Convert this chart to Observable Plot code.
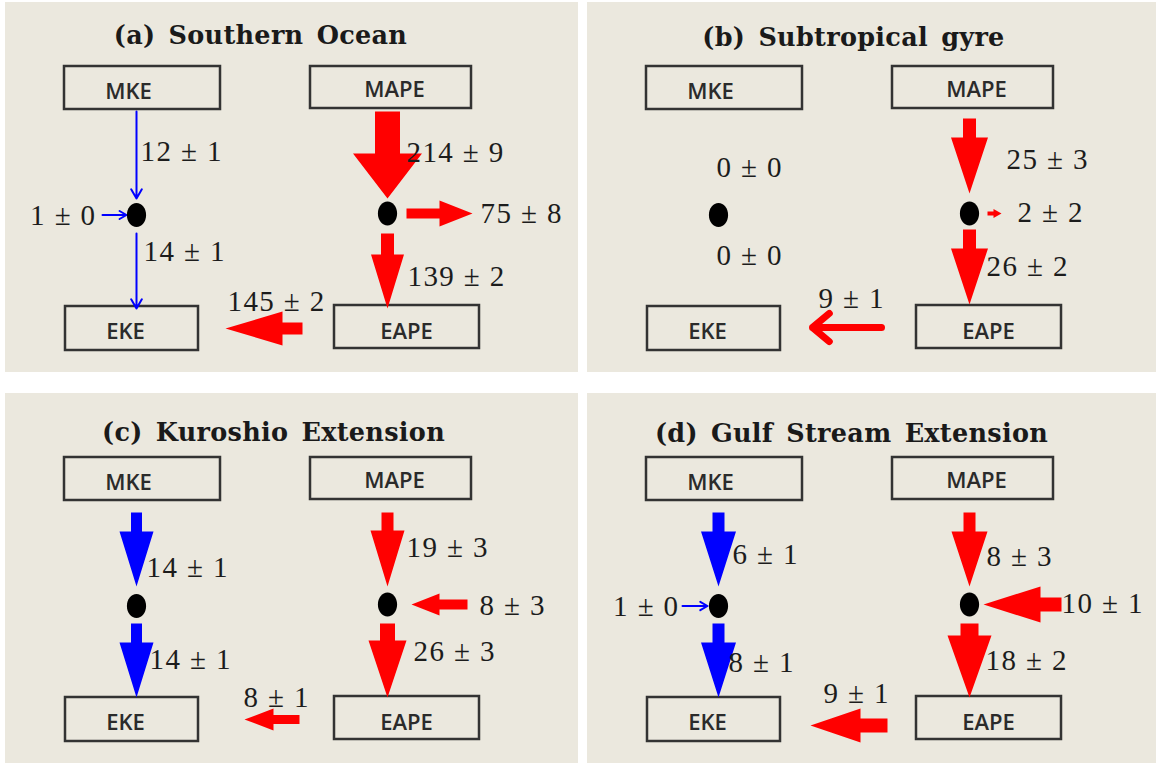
<!DOCTYPE html>
<html>
<head>
<meta charset="utf-8">
<script src="https://cdn.jsdelivr.net/npm/d3@7"></script>
<script src="https://cdn.jsdelivr.net/npm/@observablehq/plot@0.6"></script>
<style>
  html, body { margin: 0; padding: 0; background: #ffffff; }
  #wrap { position: relative; width: 1156px; height: 763px; overflow: hidden; background: #ffffff; }
  .panel { position: absolute; }
  .panel svg { display: block; }
  g[font-weight="bold"] text { letter-spacing: 0.3px; word-spacing: 4px; }
  g[font-size="29"] text { letter-spacing: 1.4px; }
</style>
</head>
<body>
<div id="wrap"></div>
<script>
// ---------------- data ----------------
const panelTitles = ["(a) Southern Ocean", "(b) Subtropical gyre", "(c) Kuroshio Extension", "(d) Gulf Stream Extension"];
const boxNames = ["MKE", "MAPE", "EKE", "EAPE"];
// energy conversion terms, in this order (null = not shown);
// for "ext→P" the sign gives the direction: + into the node, − out of it
const flowKeys = ["MKE→K", "K→EKE", "ext→K", "MAPE→P", "P→EAPE", "ext→P", "EAPE→EKE"];
const southernOcean      = [12, 14, 1, 214, 139, -75, 145];
const southernOceanErr   = [1, 1, 0, 9, 2, 8, 2];
const subtropicalGyre    = [0, 0, null, 25, 26, -2, 9];
const subtropicalGyreErr = [0, 0, null, 3, 2, 2, 1];
const kuroshioExt        = [14, 14, null, 19, 26, 8, 8];
const kuroshioExtErr     = [1, 1, null, 3, 3, 3, 1];
const gulfStreamExt      = [6, 8, 1, 8, 18, 10, 9];
const gulfStreamExtErr   = [1, 1, 0, 3, 2, 1, 1];
const panelValues = [southernOcean, subtropicalGyre, kuroshioExt, gulfStreamExt];
const panelErrors = [southernOceanErr, subtropicalGyreErr, kuroshioExtErr, gulfStreamExtErr];

// ---------------- layout (panel-local pixels) ----------------
const H = 370;
const panelWidth = [573, 569, 573, 569];
const panelOrigin = [[5, 2], [587, 2], [5, 393], [587, 393]];
const titleAt = [[255, 33], [266, 35], [268, 39.5], [264, 40]];
const boxRect = {MKE: [59, 215, 64, 107], MAPE: [305, 466, 64, 106], EKE: [60, 193, 304, 348], EAPE: [329, 474, 303, 346]};
const boxLabelAt = {MKE: [123, 89.5], MAPE: [389, 87.5], EKE: [120, 329], EAPE: [401, 329]};
const KE = [131, 212.5], PE = [382, 211];
// vertical arrow spans: [top start, top tip, bottom start, bottom tip]
const vSpan = [[109, 196, 231, 306], [116, 191, 227, 302], [119, 193, 230, 304], [119, 193, 230, 304]];
const kSide = [[97, 121], null, null, [95, 120]];               // [from, to] of the inflow into the KE node
const pSide = [[401, 467], [400, 414], [406, 462], [396, 474]]; // [near, far] of the PE side arrow
const eToK = [[297, 326, 220], [294, 325, 225], [294, 326, 239], [300, 332, 223]]; // [from x, y, tip x]
const labelAt = [
  [[135, 149], [138, 249], [91, 213, "end"], [401, 150], [402, 274], [475, 211], [222, 299]],
  [[129, 165], [129, 253], null, [419, 157], [399, 264], [430, 210], [231, 296]],
  [[141, 174], [144, 266], null, [401, 154], [408, 258], [474, 212], [238, 304]],
  [[145, 161], [141, 269], [92, 213.5, "end"], [399, 163], [398, 267], [474, 210], [236, 300]]
];
// arrow styles: ["thin"] line arrow, ["block", shaft, head width, head length], ["open", stroke width], null = none
const arrowStyle = [
  [["thin"], ["thin"], ["thin"], ["block", 25, 69, 45], ["block", 13, 33, 54], ["block", 10, 26, 33], ["block", 12, 34, 57]],
  [null, null, null, ["block", 13, 37, 56], ["block", 13, 37, 56], ["block", 4, 9, 8], ["open", 7]],
  [["block", 11, 34, 55], ["block", 11, 34, 55], null, ["block", 12, 34, 56], ["block", 15, 38, 57], ["block", 10, 22, 28], ["block", 9, 22, 29]],
  [["block", 12, 35, 55], ["block", 12, 35, 55], ["thin"], ["block", 12, 36, 55], ["block", 18, 44, 62], ["block", 14, 36, 57], ["block", 14, 34, 50]]
];
const BLUE = "#0000ff", RED = "#ff0000", BG = "#ebe8de";

// ---------------- helpers ----------------
function flowLine(p, i, v) {
  const [t0, t1, b0, b1] = vSpan[p];
  switch (flowKeys[i]) {
    case "MKE→K": return [KE[0], t0, KE[0], t1];
    case "K→EKE": return [KE[0], b0, KE[0], b1];
    case "ext→K": return [kSide[p][0], KE[1], kSide[p][1], KE[1]];
    case "MAPE→P": return [PE[0], t0, PE[0], t1];
    case "P→EAPE": return [PE[0], b0, PE[0], b1];
    case "ext→P": {
      const [near, far] = pSide[p];
      return v > 0 ? [far, PE[1], near, PE[1]] : [near, PE[1], far, PE[1]];
    }
    case "EAPE→EKE": return [eToK[p][0], eToK[p][1], eToK[p][2], eToK[p][1]];
  }
}
function blockArrow(id, [x1, y1, x2, y2], sw, hw, hl) {
  const L = Math.hypot(x2 - x1, y2 - y1), ux = (x2 - x1) / L, uy = (y2 - y1) / L, nx = -uy, ny = ux;
  const bx = x2 - ux * hl, by = y2 - uy * hl;
  return [
    [x1 + nx * sw / 2, y1 + ny * sw / 2], [bx + nx * sw / 2, by + ny * sw / 2],
    [bx + nx * hw / 2, by + ny * hw / 2], [x2, y2],
    [bx - nx * hw / 2, by - ny * hw / 2], [bx - nx * sw / 2, by - ny * sw / 2],
    [x1 - nx * sw / 2, y1 - ny * sw / 2]
  ].map(([x, y]) => ({id, x, y}));
}
const ellipse = {
  draw(ctx, size) {
    const r = Math.sqrt(size / Math.PI), rx = r * 0.8, ry = r, k = 0.5523;
    ctx.moveTo(rx, 0);
    ctx.bezierCurveTo(rx, ry * k, rx * k, ry, 0, ry);
    ctx.bezierCurveTo(-rx * k, ry, -rx, ry * k, -rx, 0);
    ctx.bezierCurveTo(-rx, -ry * k, -rx * k, -ry, 0, -ry);
    ctx.bezierCurveTo(rx * k, -ry, rx, -ry * k, rx, 0);
    ctx.closePath();
  }
};

// ---------------- draw ----------------
const wrap = document.getElementById("wrap");
panelTitles.forEach((title, p) => {
  const w = panelWidth[p];
  const vals = panelValues[p], errs = panelErrors[p];
  const polys = {[RED]: [], [BLUE]: []}, thin = [], open = [], labels = [];
  flowKeys.forEach((key, i) => {
    const v = vals[i];
    if (v == null) return;
    const color = i < 3 ? BLUE : RED;
    const st = arrowStyle[p][i];
    if (st) {
      const seg = flowLine(p, i, v);
      if (st[0] === "block") polys[color].push(...blockArrow(`${p}-${i}`, seg, st[1], st[2], st[3]));
      else if (st[0] === "thin") thin.push({x1: seg[0], y1: seg[1], x2: seg[2], y2: seg[3], color});
      else open.push({x1: seg[0], y1: seg[1], x2: seg[2], y2: seg[3], color, sw: st[1]});
    }
    const at = labelAt[p][i];
    if (at) labels.push({x: at[0], y: at[1], anchor: at[2] || "start", text: `${Math.abs(v)} ± ${errs[i]}`});
  });
  const boxes = boxNames.map(name => ({
    name, x1: boxRect[name][0], x2: boxRect[name][1], y1: boxRect[name][2], y2: boxRect[name][3],
    tx: boxLabelAt[name][0], ty: boxLabelAt[name][1]
  }));
  const numStyle = {fontFamily: "Liberation Serif", fontSize: 29, fill: "#1c1c1c"};
  const chart = Plot.plot({
    width: w, height: H, margin: 0,
    x: {domain: [0, w], range: [0, w], axis: null},
    y: {domain: [0, H], range: [0, H], axis: null},
    style: {background: BG, overflow: "visible"},
    marks: [
      Plot.rect(boxes, {x1: "x1", x2: "x2", y1: "y1", y2: "y2", fill: "none", stroke: "#333333", strokeWidth: 2.5}),
      Plot.text(boxes, {x: "tx", y: "ty", text: "name", fontFamily: "Open Sans", fontSize: 22, fontWeight: 600, fill: "#2b2b2b"}),
      Plot.line(polys[RED], {x: "x", y: "y", z: "id", fill: RED, stroke: "none"}),
      Plot.line(polys[BLUE], {x: "x", y: "y", z: "id", fill: BLUE, stroke: "none"}),
      Plot.arrow(thin, {x1: "x1", y1: "y1", x2: "x2", y2: "y2", stroke: "color", strokeWidth: 2, headLength: 8, headAngle: 60}),
      Plot.arrow(open, {x1: "x1", y1: "y1", x2: "x2", y2: "y2", stroke: "color", strokeWidth: 7, headLength: 4.7, headAngle: 80}),
      Plot.dot([KE, PE], {x: d => d[0], y: d => d[1], r: 12, symbol: ellipse, fill: "black", stroke: "none"}),
      Plot.text(labels.filter(d => d.anchor === "start"), {x: "x", y: "y", text: "text", textAnchor: "start", ...numStyle}),
      Plot.text(labels.filter(d => d.anchor === "end"), {x: "x", y: "y", text: "text", textAnchor: "end", ...numStyle}),
      Plot.text([title], {x: () => titleAt[p][0], y: () => titleAt[p][1], text: d => d, fontFamily: "DejaVu Serif", fontWeight: "bold", fontSize: 25.5, fill: "#1a1a1a"})
    ]
  });
  const div = document.createElement("div");
  div.className = "panel";
  div.style.left = panelOrigin[p][0] + "px";
  div.style.top = panelOrigin[p][1] + "px";
  div.appendChild(chart);
  wrap.appendChild(div);
});
</script>
</body>
</html>
